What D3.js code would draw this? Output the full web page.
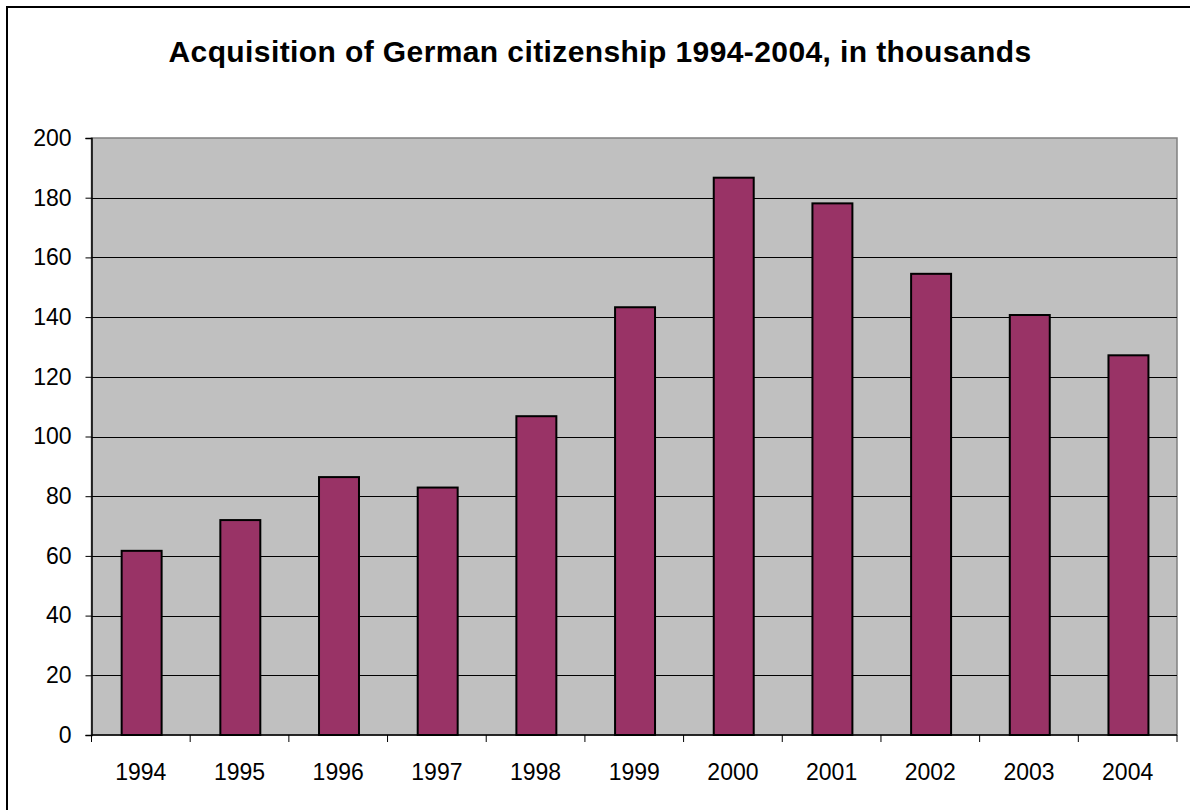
<!DOCTYPE html>
<html>
<head>
<meta charset="utf-8">
<script src="https://cdn.jsdelivr.net/npm/d3@7"></script>
<style>
  body { margin: 0; background: #fff; overflow: hidden; }
  text { font-family: Arial, "Liberation Sans", sans-serif; }
</style>
</head>
<body>
<div id="chart"></div>
<script>
  // data, in thousands
  var years = ["1994", "1995", "1996", "1997", "1998", "1999", "2000", "2001", "2002", "2003", "2004"];
  var values = [61.7, 72.0, 86.4, 82.9, 106.8, 143.3, 186.7, 178.1, 154.5, 140.7, 127.2];
  var yTicks = [0, 20, 40, 60, 80, 100, 120, 140, 160, 180, 200];

  var W = 1190, H = 810;
  var plotLeft = 91.5, plotRight = 1177, plotTop = 138, plotBottom = 735;

  var svg = d3.select("#chart").append("svg")
    .attr("width", W)
    .attr("height", H);

  // outer frame (right and bottom edges run off the picture)
  svg.append("rect")
    .attr("x", 7).attr("y", 7)
    .attr("width", W).attr("height", H)
    .attr("fill", "#fff")
    .attr("stroke", "#000")
    .attr("stroke-width", 2);

  svg.append("text")
    .attr("x", 600)
    .attr("y", 62)
    .attr("text-anchor", "middle")
    .style("font-size", "30px")
    .style("font-weight", "bold")
    .style("letter-spacing", "0.4px")
    .text("Acquisition of German citizenship 1994-2004, in thousands");

  var x = d3.scaleBand().domain(years).range([plotLeft, plotRight]).paddingInner(0.595).paddingOuter(0.2975);
  var xc = d3.scaleBand().domain(years).range([plotLeft, plotRight]);
  var y = d3.scaleLinear().domain([0, 200]).range([plotBottom, plotTop]);

  // plot area
  svg.append("rect")
    .attr("x", plotLeft).attr("y", plotTop)
    .attr("width", plotRight - plotLeft).attr("height", plotBottom - plotTop)
    .attr("fill", "#c0c0c0")
    .attr("stroke", "#808080")
    .attr("stroke-width", 1.5);

  // gridlines
  svg.append("g").selectAll("line")
    .data(yTicks.filter(function(d) { return d > 0 && d < 200; }))
    .enter().append("line")
    .attr("x1", plotLeft).attr("x2", plotRight)
    .attr("y1", function(d) { return Math.round(y(d)) + 0.5; })
    .attr("y2", function(d) { return Math.round(y(d)) + 0.5; })
    .attr("stroke", "#000")
    .attr("stroke-width", 1);

  // bars
  svg.append("g").selectAll("rect")
    .data(values)
    .enter().append("rect")
    .attr("x", function(d, i) { return x(years[i]) + 0.8; })
    .attr("y", function(d) { return y(d); })
    .attr("width", x.bandwidth())
    .attr("height", function(d) { return plotBottom - y(d); })
    .attr("fill", "#993366")
    .attr("stroke", "#000")
    .attr("stroke-width", 2);

  // y axis
  var yAxis = svg.append("g")
    .attr("transform", "translate(" + plotLeft + ",0)")
    .call(d3.axisLeft(y).tickValues(yTicks).tickSize(6).tickPadding(14));
  yAxis.select(".domain").attr("stroke", "#000").attr("stroke-width", 1.5);
  yAxis.selectAll(".tick line").attr("stroke", "#000");
  yAxis.selectAll("text")
    .style("font-size", "23px")
    .style("font-family", "Arial, 'Liberation Sans', sans-serif")
    .attr("fill", "#000");

  // x axis, ticks at category boundaries
  var xg = svg.append("g").attr("transform", "translate(0," + plotBottom + ")");
  xg.append("line")
    .attr("x1", plotLeft).attr("x2", plotRight)
    .attr("stroke", "#000").attr("stroke-width", 1.5);
  xg.selectAll(".tk")
    .data(years.concat(["end"]))
    .enter().append("line")
    .attr("class", "tk")
    .attr("x1", function(d, i) { return plotLeft + i * xc.step(); })
    .attr("x2", function(d, i) { return plotLeft + i * xc.step(); })
    .attr("y1", 0).attr("y2", 7)
    .attr("stroke", "#000");
  xg.selectAll("text")
    .data(years)
    .enter().append("text")
    .attr("x", function(d) { return xc(d) + xc.bandwidth() / 2; })
    .attr("y", 45)
    .attr("text-anchor", "middle")
    .style("font-size", "23px")
    .text(function(d) { return d; });
</script>
</body>
</html>
